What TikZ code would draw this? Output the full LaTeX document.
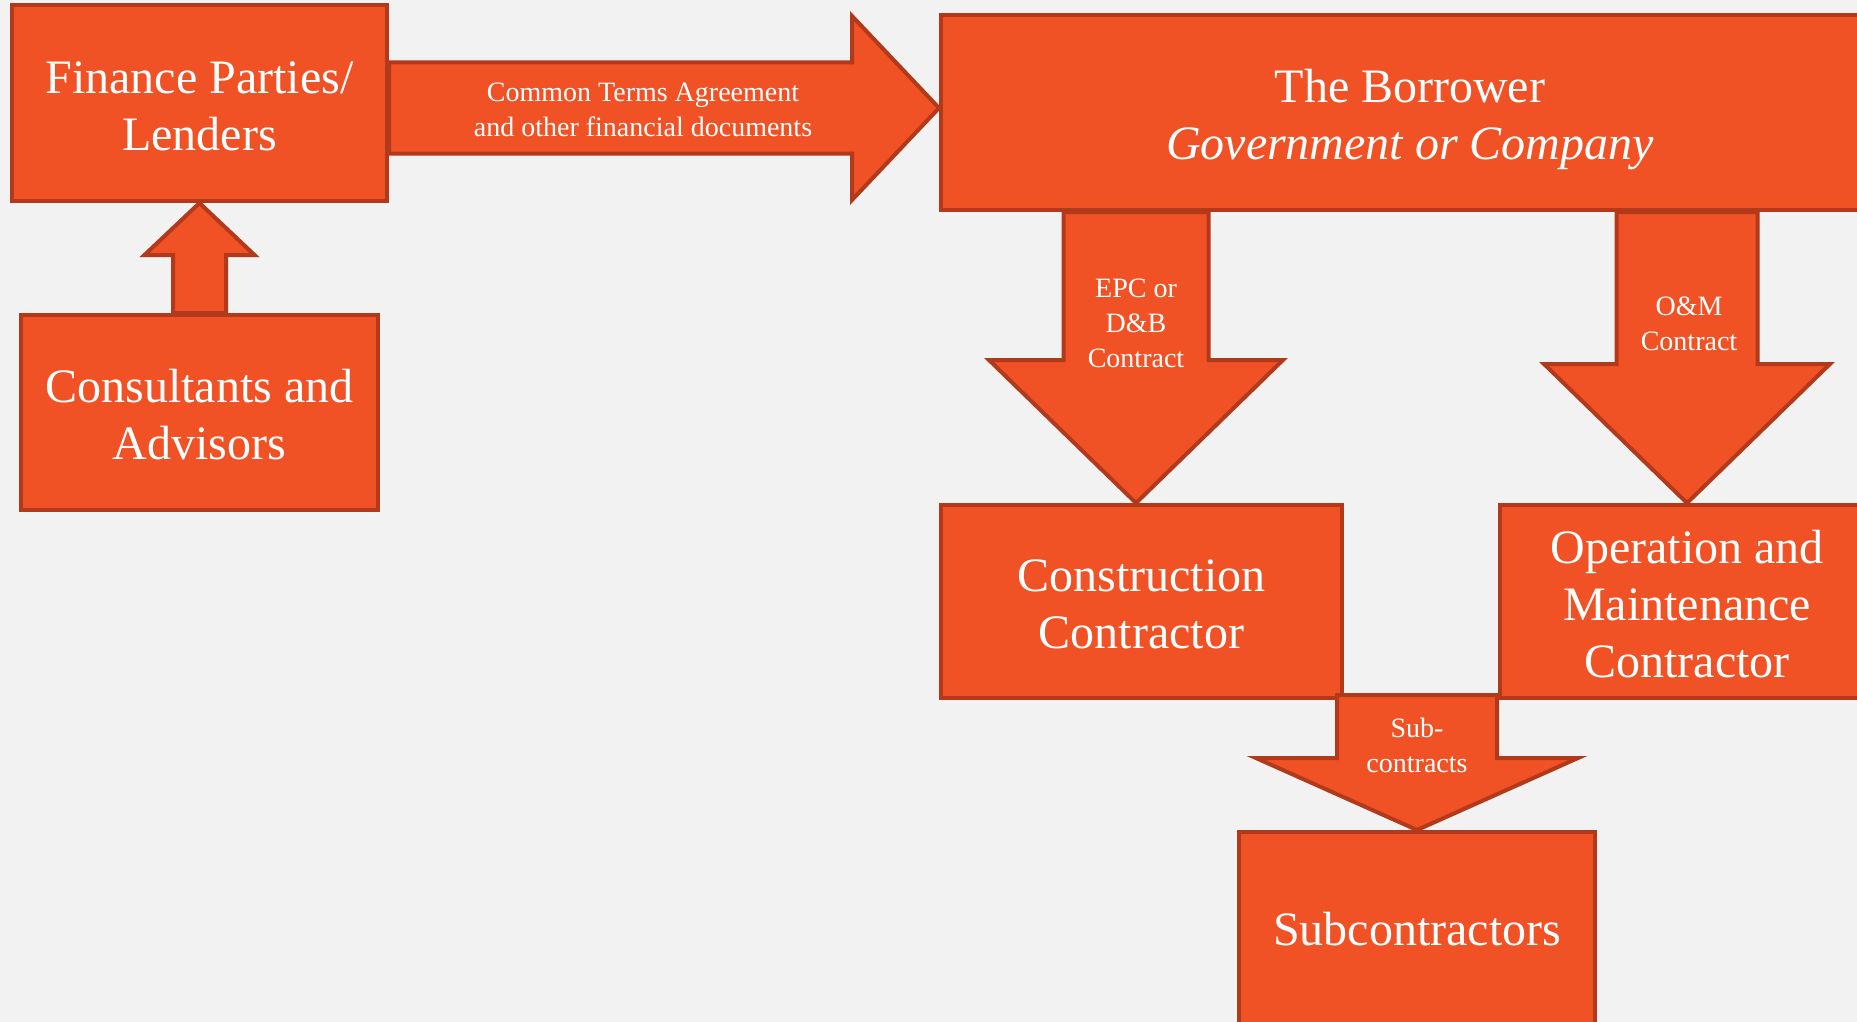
\documentclass[tikz,border=0pt]{standalone}
\usepackage{fontspec}
\setmainfont{Liberation Serif}
\usetikzlibrary{calc}
\definecolor{bgc}{HTML}{F2F2F2}
\definecolor{boxfill}{HTML}{F05225}
\definecolor{boxline}{HTML}{B3391B}
\tikzset{
  box/.style={draw=boxline, fill=boxfill, line width=2pt, rectangle, text=white,
    align=center, inner sep=0pt, font=\fontsize{24pt}{28.5pt}\selectfont},
  barrow/.style={draw=boxline, fill=boxfill, line width=2pt, line join=miter},
  lbl/.style={text=white, align=center, inner sep=0pt, font=\fontsize{14pt}{17.5pt}\selectfont}
}
\newcommand{\tup}[1]{\rule{0pt}{#1}}
\newcommand{\myDownArrow}[5]{%
  \path[barrow] let \p1=(#1), \p2=(#2) in
    (\x1-#3,\y1) -- (\x1-#3,\y2+#5) -- (\x1-#4,\y2+#5) -- (\x1,\y2)
    -- (\x1+#4,\y2+#5) -- (\x1+#3,\y2+#5) -- (\x1+#3,\y1) -- cycle;}
\newcommand{\myUpArrow}[5]{%
  \path[barrow] let \p1=(#1), \p2=(#2) in
    (\x1-#3,\y1) -- (\x1-#3,\y2-#5) -- (\x1-#4,\y2-#5) -- (\x1,\y2)
    -- (\x1+#4,\y2-#5) -- (\x1+#3,\y2-#5) -- (\x1+#3,\y1) -- cycle;}
\newcommand{\myRightArrow}[5]{%
  \path[barrow] let \p1=(#1), \p2=(#2) in
    (\x1,\y1-#3) -- (\x2-#5,\y1-#3) -- (\x2-#5,\y1-#4) -- (\x2,\y1)
    -- (\x2-#5,\y1+#4) -- (\x2-#5,\y1+#3) -- (\x1,\y1+#3) -- cycle;}
\begin{document}
\begin{tikzpicture}[x=0.5pt,y=-0.5pt]
\useasboundingbox (0,0) rectangle (1857,1022);
\clip (0,0) rectangle (1857,1022);
\fill[bgc] (0,0) rectangle (1857,1022);

% boxes
\node[box, minimum width=187.5pt, minimum height=98pt] (fin) at (199.5,103) {\tup{19.5pt}Finance Parties/\\Lenders};
\node[box, minimum width=178.5pt, minimum height=97.5pt] (con) at (199.5,412.5) {\tup{19pt}Consultants and\\Advisors};
\node[box, minimum width=469pt, minimum height=97.5pt] (bor) at (1410,112.5) {\tup{23.5pt}The Borrower\\\textit{Government or Company}};
\node[box, minimum width=200.5pt, minimum height=96.5pt] (cc) at (1141.5,601.5) {\tup{19pt}Construction\\Contractor};
\node[box, minimum width=187pt, minimum height=96.5pt] (om) at (1687,601.5) {\tup{19pt}Operation and\\Maintenance\\Contractor};
\node[box, minimum width=178pt, minimum height=97pt] (sub) at (1417,929) {Subcontractors};

% connector end points
\coordinate (rS) at ($(fin.east)+(0,5)$);
\coordinate (rE) at ($(bor.west)+(0,-4.5)$);
\coordinate (epcS) at (bor.south -| 1136,0);
\coordinate (epcE) at (cc.north -| 1136,0);
\coordinate (omS) at (bor.south -| om.north);
\coordinate (subS) at ($(cc.south -| sub.north)+(0,-5)$);

% block arrows
\myUpArrow{con.north}{fin.south}{13.25pt}{27.5pt}{26pt}
\myRightArrow{rS}{rE}{22.75pt}{46pt}{43.5pt}
\myDownArrow{epcS}{epcE}{36.25pt}{73.5pt}{71.5pt}
\myDownArrow{omS}{om.north}{35.25pt}{71.5pt}{69.5pt}
\myDownArrow{subS}{sub.north}{40pt}{80.5pt}{36pt}

% arrow labels
\node[lbl] (ctaL) at (643,110) {Common Terms Agreement\\and other financial documents};
\node[lbl] (epcL) at (1136,323) {EPC or\\D\&B\\Contract};
\node[lbl] (omL) at (1689,324) {O\&M\\Contract};
\node[lbl] (subL) at (1417,745) {Sub-\\contracts};
\end{tikzpicture}
\end{document}
